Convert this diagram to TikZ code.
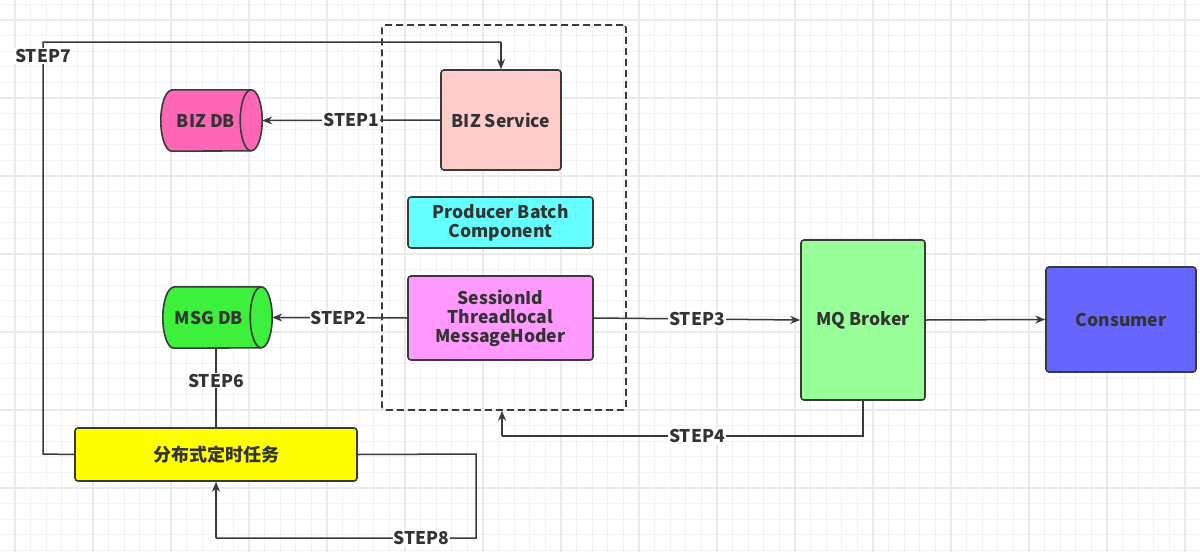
\documentclass[tikz,border=0pt]{standalone}
\usepackage{fontspec}
\setmainfont{Noto Sans CJK SC}
\usetikzlibrary{arrows.meta}
\definecolor{linec}{HTML}{3A3A3A}
\definecolor{textc}{HTML}{333333}
\definecolor{gridc}{HTML}{F2F2F2}
\definecolor{gridm}{HTML}{EAEAEA}
\definecolor{bizsvc}{HTML}{FFCCCC}
\definecolor{bizdbc}{HTML}{FF66B3}
\definecolor{prodc}{HTML}{66FFFF}
\definecolor{sessc}{HTML}{FF99FF}
\definecolor{msgdbc}{HTML}{3CF03C}
\definecolor{mqc}{HTML}{99FF99}
\definecolor{consc}{HTML}{6666FF}
\definecolor{taskc}{HTML}{FFFF00}
\begin{document}
\begin{tikzpicture}[x=1pt,y=-1pt,
  box/.style={draw=linec, line width=1.6pt, rounded corners=3pt, text=textc, align=center, inner sep=0pt,
    font=\bfseries\fontsize{17.5}{19}\selectfont},
  cylbody/.style={inner sep=0pt, text=textc, font=\bfseries\fontsize{17.5}{19}\selectfont},
  cylst/.style={draw=linec, line width=1.6pt},
  conn/.style={draw=linec, line width=1.5pt},
  arr/.style={conn, -{Stealth[length=10pt,width=8pt]}},
  lbl/.style={fill=white, inner sep=1pt, text=textc, font=\bfseries\fontsize{17.5}{19}\selectfont}]
\useasboundingbox (0,0) rectangle (1200,552);
\fill[white] (0,0) rectangle (1200,552);
% grid
\foreach \i in {0,...,76} {\draw[gridc, line width=0.8pt] ({15+15.6*\i},0) -- ({15+15.6*\i},552);}
\foreach \i in {0,...,35} {\draw[gridc, line width=0.8pt] (0,{4.4+15.6*\i}) -- (1200,{4.4+15.6*\i});}
\foreach \i in {0,...,15} {\draw[gridm, line width=1.2pt] ({15+78*\i},0) -- ({15+78*\i},552);}
\foreach \i in {0,...,7} {\draw[gridm, line width=1.2pt] (0,{20+78*\i}) -- (1200,{20+78*\i});}

% group container
\node[draw=linec, line width=1.6pt, dash pattern=on 7pt off 4pt, rounded corners=3pt,
  minimum width=244pt, minimum height=385pt, inner sep=0pt] (grp) at (504,217.5) {};

% boxes
\node[box, fill=bizsvc, minimum width=120pt, minimum height=100pt] (biz) at (501,120) {BIZ Service};
\node[box, fill=prodc, minimum width=185pt, minimum height=51pt] (prod) at (500.5,222.5) {Producer Batch\\Component};
\node[box, fill=sessc, minimum width=185pt, minimum height=84pt] (sess) at (500.5,318) {SessionId\\Threadlocal\\MessageHoder};
\node[box, fill=mqc, minimum width=124pt, minimum height=160pt] (mq) at (863,320) {MQ Broker};
\node[box, fill=consc, minimum width=150pt, minimum height=105pt] (cons) at (1121,319.5) {Consumer};
\node[box, fill=taskc, minimum width=282pt, minimum height=53pt, font=\bfseries\fontsize{18}{20}\selectfont] (task) at (216,454.5) {分布式定时任务};

% cylinders
\node[cylbody, minimum width=90pt, minimum height=61pt] (bizdb) at (206,120.5) {};
\draw[cylst, fill=bizdbc] ([xshift=11pt]bizdb.north west) -- (bizdb.north east)
  arc[start angle=-90, end angle=90, x radius=11, y radius=30.5]
  -- ([xshift=11pt]bizdb.south west)
  arc[start angle=90, end angle=270, x radius=11, y radius=30.5] -- cycle;
\draw[cylst] (bizdb.north east) arc[start angle=-90, end angle=-270, x radius=11, y radius=30.5];
\node[cylbody] at (bizdb.center) {BIZ DB};

\node[cylbody, minimum width=98pt, minimum height=61pt] (msgdb) at (212,317.5) {};
\draw[cylst, fill=msgdbc] ([xshift=11pt]msgdb.north west) -- (msgdb.north east)
  arc[start angle=-90, end angle=90, x radius=11, y radius=30.5]
  -- ([xshift=11pt]msgdb.south west)
  arc[start angle=90, end angle=270, x radius=11, y radius=30.5] -- cycle;
\draw[cylst] (msgdb.north east) arc[start angle=-90, end angle=-270, x radius=11, y radius=30.5];
\node[cylbody] at ([xshift=-3pt]msgdb.center) {MSG DB};

% waypoints
\coordinate (w4a) at (863,436);
\coordinate (w4b) at (502,436);
\coordinate (w7a) at (43,454);
\coordinate (w7b) at (43,42);
\coordinate (w7c) at (501,42);
\coordinate (w8a) at (476,454);
\coordinate (w8b) at (476,538);
\coordinate (w8c) at (216,538);

% connectors
\draw[arr] (biz.west) -- node[lbl, pos=0.5] {STEP1} ([xshift=11pt]bizdb.east);
\draw[arr] (sess.west) -- node[lbl, pos=0.51] {STEP2} ([xshift=11pt]msgdb.east);
\draw[arr] (sess.east) -- node[lbl, pos=0.5] {STEP3} (mq.west);
\draw[arr] (mq.east) -- (cons.west);
\draw[conn] (mq.south) -- (w4a) -- node[lbl, pos=0.46] {STEP4} (w4b);
\draw[arr] (w4b) -- (w4b |- grp.south);
\draw[conn] (task.north |- msgdb.south) -- node[lbl, pos=0.41] {STEP6} (task.north);
\draw[conn] (task.west) -- (w7a) -- node[lbl, pos=0.966] {STEP7} (w7b) -- (w7c);
\draw[arr] (w7c) -- (biz.north);
\draw[conn] (task.east) -- (w8a) -- (w8b) -- node[lbl, pos=0.21] {STEP8} (w8c);
\draw[arr] (w8c) -- (task.south);
\end{tikzpicture}
\end{document}
